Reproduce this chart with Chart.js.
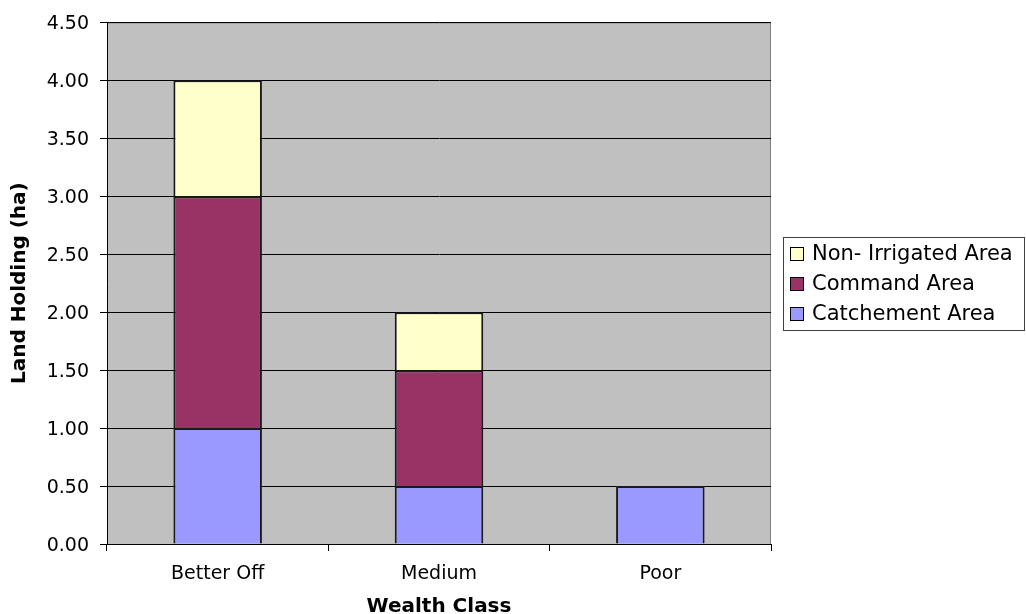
<!DOCTYPE html>
<html>
<head>
<meta charset="utf-8">
<script src="https://cdn.jsdelivr.net/npm/chart.js@4.4.0/dist/chart.umd.min.js"></script>
<style>
  body { margin: 0; background: #ffffff; }
  #wrap { width: 1026px; height: 614px; }
</style>
</head>
<body>
<div id="wrap"><canvas id="landChart" width="1026" height="614"></canvas></div>
<script>
// Chart data
const wealthClasses = ['Better Off', 'Medium', 'Poor'];
const catchementArea = [1.0, 0.5, 0.5];
const commandArea = [2.0, 1.0, null];
const nonIrrigatedArea = [1.0, 0.5, null];
const yTicks = [0, 0.5, 1, 1.5, 2, 2.5, 3, 3.5, 4, 4.5];

const FONT = "'DejaVu Sans', 'Liberation Sans', Arial, sans-serif";

// grey plot background + frame
const plotBackground = {
    id: 'plotBackground',
    beforeDraw(chart) {
        const { ctx, chartArea: a } = chart;
        ctx.save();
        ctx.fillStyle = '#C0C0C0';
        ctx.fillRect(a.left, a.top, a.right - a.left, a.bottom - a.top);
        ctx.strokeStyle = '#808080';
        ctx.lineWidth = 1;
        ctx.strokeRect(a.left + 0.5, a.top + 0.5, a.right - a.left - 1, a.bottom - a.top);
        ctx.restore();
    }
};

// boxed legend on the right, series listed top to bottom as stacked
const boxLegend = {
    id: 'boxLegend',
    afterDraw(chart) {
        const ctx = chart.ctx;
        const x = 783, y = 237, w = 241, h = 93;
        ctx.save();
        ctx.fillStyle = '#ffffff';
        ctx.fillRect(x, y, w, h);
        ctx.strokeStyle = '#404040';
        ctx.lineWidth = 1;
        ctx.strokeRect(x + 0.5, y + 0.5, w, h);
        ctx.font = '21px ' + FONT;
        ctx.textBaseline = 'middle';
        const items = chart.data.datasets.slice().reverse();
        items.forEach((ds, i) => {
            const cy = y + 17 + i * 30;
            ctx.fillStyle = ds.backgroundColor;
            ctx.fillRect(x + 7.5, cy - 6.5, 13, 13);
            ctx.strokeStyle = '#000000';
            ctx.strokeRect(x + 7.5, cy - 6.5, 13, 13);
            ctx.fillStyle = '#000000';
            ctx.fillText(ds.label, x + 29, cy + 1);
        });
        ctx.restore();
    }
};

const ctx = document.getElementById('landChart').getContext('2d');
const landChart = new Chart(ctx, {
    type: 'bar',
    data: {
        labels: wealthClasses,
        datasets: [
            { label: 'Catchement Area', data: catchementArea, backgroundColor: '#9999FF' },
            { label: 'Command Area', data: commandArea, backgroundColor: '#993366' },
            { label: 'Non- Irrigated Area', data: nonIrrigatedArea, backgroundColor: '#FFFFCC' }
        ].map(ds => Object.assign(ds, {
            borderColor: '#1a1a1a',
            borderWidth: 2,
            borderSkipped: 'start',
            barPercentage: 0.4,
            categoryPercentage: 1.0
        }))
    },
    options: {
        responsive: false,
        animation: false,
        layout: { padding: { top: 22, right: 255, left: 0, bottom: 0 } },
        plugins: {
            legend: { display: false },
            tooltip: { enabled: false }
        },
        scales: {
            x: {
                stacked: true,
                afterFit: s => { s.height = 70; },
                grid: {
                    offset: true,
                    drawOnChartArea: false,
                    color: '#000000',
                    tickLength: 7
                },
                border: { color: '#000000', width: 1 },
                ticks: {
                    color: '#000000',
                    padding: 12,
                    font: { family: FONT, size: 19 }
                },
                title: {
                    display: true,
                    text: 'Wealth Class',
                    color: '#000000',
                    font: { family: FONT, size: 20, weight: 'bold', lineHeight: 1 },
                    padding: { top: 0, bottom: -3 }
                }
            },
            y: {
                stacked: true,
                min: 0,
                max: 4.5,
                afterFit: s => { s.width = 107; },
                afterBuildTicks: s => { s.ticks = yTicks.map(v => ({ value: v })); },
                grid: { color: '#000000', tickLength: 7 },
                border: { color: '#000000', width: 1 },
                ticks: {
                    color: '#000000',
                    padding: 11,
                    labelOffset: 2,
                    font: { family: FONT, size: 19 },
                    callback: v => Number(v).toFixed(2)
                },
                title: {
                    display: true,
                    text: 'Land Holding (ha)',
                    color: '#000000',
                    font: { family: FONT, size: 20, weight: 'bold', lineHeight: 1.2 },
                    padding: { top: 8, bottom: 0 }
                }
            }
        }
    },
    plugins: [plotBackground, boxLegend]
});
</script>
</body>
</html>
